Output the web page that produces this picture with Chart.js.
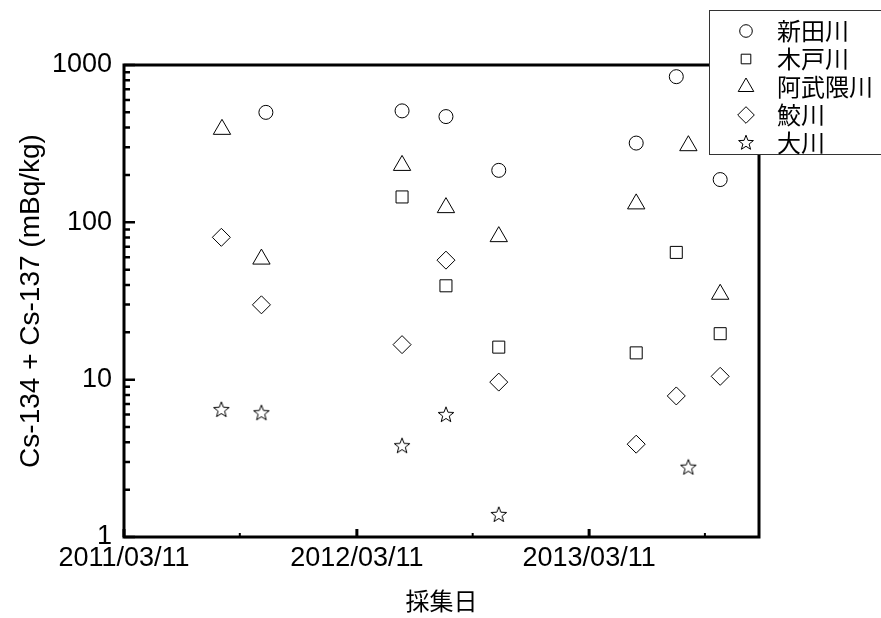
<!DOCTYPE html>
<html>
<head>
<meta charset='utf-8' />
<title>Cs-134 + Cs-137</title>
<script src="https://cdn.jsdelivr.net/npm/chart.js"></script>
<style>
body { margin:0; padding:0; background:#FFFFFF; }
#chart { display:block; }
</style>
</head>
<body>
<canvas id="chart" width="881" height="618"></canvas>
<script>

/*************************************************/
/*データ                                          */
/*************************************************/

const riverNames = ['新田川', '木戸川', '阿武隈川', '鮫川', '大川'];

const niidaDates  = ['2011/10/20', '2012/05/21', '2012/07/29', '2012/10/20', '2013/05/24', '2013/07/26', '2013/10/03'];
const niidaValues = [500, 511, 470, 214, 319, 843, 187];

const kidoDates  = ['2012/05/21', '2012/07/29', '2012/10/20', '2013/05/24', '2013/07/26', '2013/10/03'];
const kidoValues = [145, 39.5, 16.1, 14.8, 64.4, 19.6];

const abukumaDates  = ['2011/08/12', '2011/10/13', '2012/05/21', '2012/07/29', '2012/10/20', '2013/05/24', '2013/08/14', '2013/10/03'];
const abukumaValues = [390, 58.4, 230, 124, 81.1, 131, 307, 34.9];

const samegawaDates  = ['2011/08/11', '2011/10/13', '2012/05/21', '2012/07/29', '2012/10/20', '2013/05/24', '2013/07/26', '2013/10/03'];
const samegawaValues = [80.3, 29.9, 16.7, 57.5, 9.65, 3.89, 7.88, 10.5];

const ogawaDates  = ['2011/08/11', '2011/10/13', '2012/05/21', '2012/07/29', '2012/10/20', '2013/08/14'];
const ogawaValues = [6.41, 6.12, 3.78, 5.96, 1.38, 2.76];

const xTickLabels  = ['2011/03/11', '2012/03/11', '2013/03/11'];
const xMinorLabels = ['2011/09/09', '2012/09/09', '2013/09/09'];
const xRange = ['2011/03/11', '2013/12/03'];
const yTicks = [1, 10, 100, 1000];

const toMs = (s) => {
  const [yy, mm, dd] = s.split('/').map(Number);
  return Date.UTC(yy, mm - 1, dd);
};

/*************************************************/
/*マーカー                                        */
/*************************************************/

// 星形(☆)は chart.js 標準に無いので canvas で作る
const makeStar = (R) => {
  const c = document.createElement('canvas');
  const s = 20;
  c.width = s; c.height = s;
  const g = c.getContext('2d');
  g.translate(s / 2, s / 2);
  g.beginPath();
  for (let i = 0; i < 10; i++) {
    const r = (i % 2) ? R * 0.42 : R;
    const a = -Math.PI / 2 + i * Math.PI / 5;
    g.lineTo(r * Math.cos(a), r * Math.sin(a));
  }
  g.closePath();
  g.lineWidth = 1;
  g.strokeStyle = '#000000';
  g.stroke();
  return c;
};

const star = makeStar(8.2);
const starSmall = makeStar(7.8);

const series = [
  { dates: niidaDates,    values: niidaValues,    pointStyle: 'circle',   radius: 7,   legendRadius: 6.3 },
  { dates: kidoDates,     values: kidoValues,     pointStyle: 'rect',     radius: 8.5, legendRadius: 6.8 },
  { dates: abukumaDates,  values: abukumaValues,  pointStyle: 'triangle', radius: 10,  legendRadius: 9 },
  { dates: samegawaDates, values: samegawaValues, pointStyle: 'rectRot',  radius: 9,   legendRadius: 8.3 },
  { dates: ogawaDates,    values: ogawaValues,    pointStyle: star,       radius: 8,   legendStyle: starSmall }
];

const datasets = series.map((s, i) => ({
  label: riverNames[i],
  data: s.dates.map((d, j) => ({ x: toMs(d), y: s.values[j] })),
  pointStyle: s.pointStyle,
  pointRadius: s.radius,
  pointHoverRadius: s.radius,
  pointBorderWidth: 1,
  pointBorderColor: '#000000',
  pointBackgroundColor: 'rgba(0,0,0,0)',
  showLine: false
}));

/*************************************************/
/*枠・内向き目盛り                                */
/*************************************************/

const framePlugin = {
  id: 'frame',
  afterDatasetsDraw(chart) {
    const { ctx, chartArea: a, scales: { x, y } } = chart;
    ctx.save();
    ctx.strokeStyle = '#000000';

    // y 補助目盛り 2〜9
    ctx.lineWidth = 2.5;
    ctx.beginPath();
    for (let d = 1; d < 1000; d *= 10) {
      for (let k = 2; k < 10; k++) {
        const py = y.getPixelForValue(d * k);
        ctx.moveTo(a.left, py);
        ctx.lineTo(a.left + 6, py);
      }
    }
    yTicks.forEach(v => {
      const py = y.getPixelForValue(v);
      ctx.moveTo(a.left, py);
      ctx.lineTo(a.left + 11, py);
    });
    ctx.stroke();

    // x 目盛り
    ctx.lineWidth = 3;
    ctx.beginPath();
    xTickLabels.forEach(d => {
      const px = x.getPixelForValue(toMs(d));
      ctx.moveTo(px, a.bottom);
      ctx.lineTo(px, a.bottom - 8);
    });
    ctx.stroke();
    ctx.lineWidth = 2;
    ctx.beginPath();
    xMinorLabels.forEach(d => {
      const px = x.getPixelForValue(toMs(d));
      ctx.moveTo(px, a.bottom);
      ctx.lineTo(px, a.bottom - 4);
    });
    ctx.stroke();

    ctx.lineWidth = 3;
    ctx.strokeRect(a.left, a.top, a.right - a.left, a.bottom - a.top);
    ctx.restore();
  }
};

/*************************************************/
/*凡例(右上の枠)                                  */
/*************************************************/

const legendPlugin = {
  id: 'boxLegend',
  afterDraw(chart) {
    const { ctx } = chart;
    const left = 709, top = 10, bottom = 154;
    const rowY = [31, 59, 87, 115, 143];
    ctx.save();
    ctx.fillStyle = '#FFFFFF';
    ctx.fillRect(left, top, chart.width - left + 10, bottom - top);
    ctx.lineWidth = 1;
    ctx.strokeStyle = '#333333';
    ctx.strokeRect(left + 0.5, top + 0.5, chart.width - left + 10, bottom - top);

    series.forEach((s, i) => {
      const px = 746, py = rowY[i];
      ctx.strokeStyle = '#000000';
      ctx.fillStyle = 'rgba(0,0,0,0)';
      ctx.lineWidth = 1;
      if (s.legendStyle) {
        ctx.drawImage(s.legendStyle, px - s.legendStyle.width / 2, py - s.legendStyle.height / 2);
      } else {
        Chart.helpers.drawPoint(ctx, {
          pointStyle: s.pointStyle, radius: s.legendRadius, rotation: 0, borderWidth: 1
        }, px, py);
      }
      ctx.fillStyle = '#000000';
      ctx.font = '24px "Noto Sans CJK JP"';
      ctx.textBaseline = 'middle';
      ctx.textAlign = 'left';
      ctx.fillText(riverNames[i], 777, py);
    });
    ctx.restore();
  }
};

/*************************************************/
/*chart.js 設定                                   */
/*************************************************/

const numFont = 'Liberation Sans, Arial, sans-serif';

const chart = new Chart(document.getElementById('chart'), {
  type: 'scatter',
  data: { datasets: datasets },
  plugins: [framePlugin, legendPlugin],
  options: {
    responsive: false,
    animation: false,
    layout: { padding: { top: 65, right: 122, left: 0, bottom: 0 } },
    plugins: {
      legend: { display: false },
      tooltip: { enabled: false }
    },
    scales: {
      x: {
        type: 'linear',
        min: toMs(xRange[0]),
        max: toMs(xRange[1]),
        afterBuildTicks: (scale) => {
          scale.ticks = xTickLabels.map(d => ({ value: toMs(d) }));
        },
        afterFit: (scale) => { scale.height = 81; },
        grid: { display: false, drawTicks: false },
        border: { display: false },
        ticks: {
          autoSkip: false,
          maxRotation: 0,
          padding: 5,
          color: '#000000',
          font: { family: numFont, size: 27 },
          callback: (v, i) => xTickLabels[i]
        },
        title: {
          display: true,
          text: '採集日',
          color: '#000000',
          font: { family: '"Noto Sans CJK JP"', size: 24 },
          padding: { top: 0, bottom: 3 }
        }
      },
      y: {
        type: 'logarithmic',
        min: 1,
        max: 1000,
        afterBuildTicks: (scale) => {
          scale.ticks = yTicks.map(v => ({ value: v }));
        },
        afterFit: (scale) => { scale.width = 124; },
        grid: { display: false, drawTicks: false },
        border: { display: false },
        ticks: {
          padding: 12,
          color: '#000000',
          font: { family: numFont, size: 27 },
          callback: (v) => String(v)
        },
        title: {
          display: true,
          text: 'Cs-134 + Cs-137 (mBq/kg)',
          color: '#000000',
          font: { family: numFont, size: 28 },
          padding: { top: 14, bottom: 0 }
        }
      }
    }
  }
});

</script>
</body>
</html>
